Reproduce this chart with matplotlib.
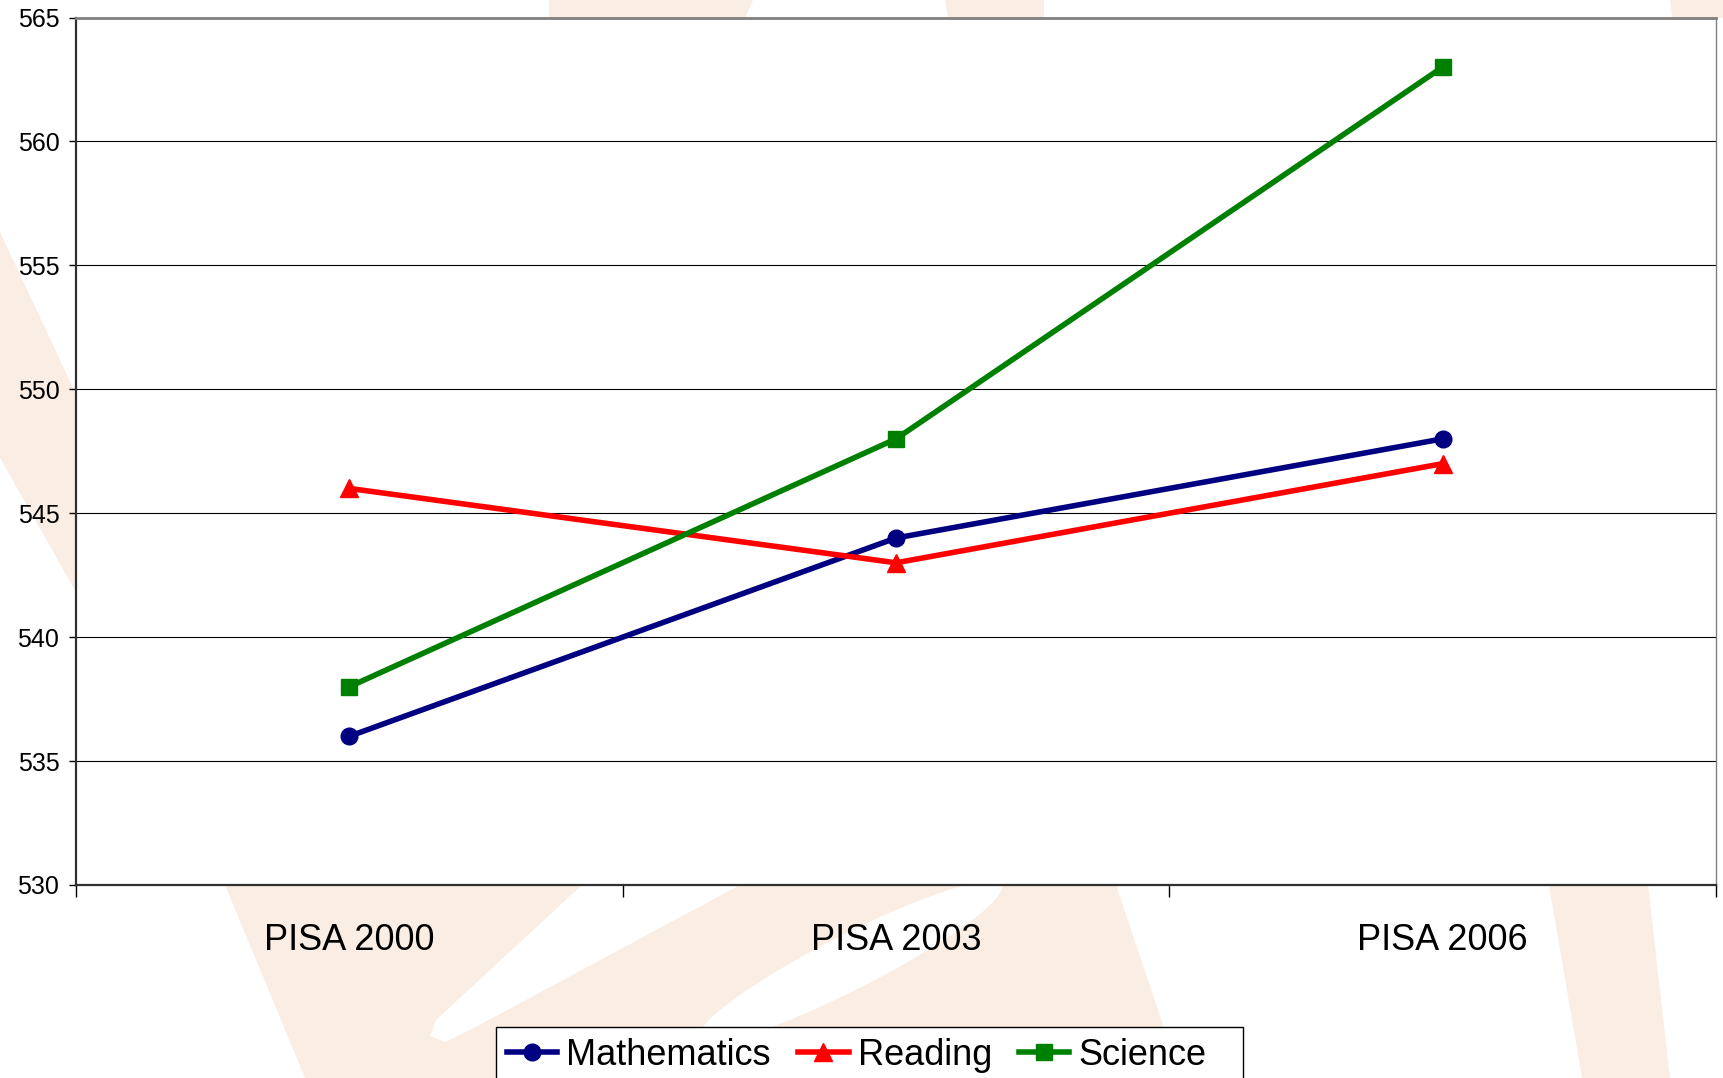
import matplotlib
matplotlib.use('Agg')
import matplotlib.pyplot as plt
from matplotlib.patches import Polygon, Ellipse, Rectangle
from matplotlib.ticker import FixedLocator

plt.rcParams['font.family'] = ['Liberation Sans', 'DejaVu Sans']

# data
rounds = ['PISA 2000', 'PISA 2003', 'PISA 2006']
maths = [536, 544, 548]
reading = [546, 543, 547]
science = [538, 548, 563]
y_ticks = [530, 535, 540, 545, 550, 555, 560, 565]

W, H = 1723, 1078
peach = '#FAEEE4'

def fx(px):
    return px / W

def fy(py):
    return 1 - py / H

# faint watermark behind the chart (pixel coords, origin top-left)
peach_shapes = [
    [(0, 232), (76, 394), (76, 592), (0, 458)],
    [(549, 0), (753, 0), (745, 18), (549, 18)],
    [(945, 0), (1044, 0), (1044, 18), (948, 18)],
    [(1670, 0), (1723, 0), (1723, 18), (1672, 18)],
    [(225, 885), (1116, 885), (1181, 1078), (305, 1078)],
    [(1549, 885), (1648, 885), (1670, 1078), (1582, 1078)],
]
white_shapes = [
    [(582, 885), (740, 885), (470, 1030), (445, 1042), (430, 1036), (436, 1020)],
]

fig = plt.figure(figsize=(W / 100, H / 100), dpi=100)
for pts in peach_shapes:
    fig.patches.append(Polygon([(fx(x), fy(y)) for x, y in pts], closed=True,
                               transform=fig.transFigure, facecolor=peach,
                               edgecolor='none', zorder=-3))
for pts in white_shapes:
    fig.patches.append(Polygon([(fx(x), fy(y)) for x, y in pts], closed=True,
                               transform=fig.transFigure, facecolor='white',
                               edgecolor='none', zorder=-2))
# narrow white swoosh, drawn in pixel space
fig.patches.append(Ellipse((850, H - 962), 340, 55, angle=27, transform=None,
                           facecolor='white', edgecolor='none', zorder=-2))

# legend box runs off the bottom edge
fig.patches.append(Rectangle((fx(496), fy(1090)), fx(1243) - fx(496), fy(1027) - fy(1090),
                             transform=fig.transFigure, facecolor='white',
                             edgecolor='black', lw=1, zorder=-1))

ax = fig.add_axes([fx(76), fy(885), fx(1716) - fx(76), fy(17.5) - fy(885)])
ax.set_facecolor('white')

x = range(len(rounds))
l1, = ax.plot(x, maths, color='#000080', lw=4, marker='o', ms=12, label='Mathematics')
l2, = ax.plot(x, reading, color='#FF0000', lw=4, marker='^', ms=12.5, label='Reading')
l3, = ax.plot(x, science, color='#008000', lw=4, marker='s', ms=11.5, label='Science')

ax.set_xlim(-0.5, len(rounds) - 0.5)
ax.set_ylim(530, 565)
ax.set_yticks(y_ticks)
ax.set_yticklabels([str(v) for v in y_ticks], fontsize=18)
ax.tick_params(axis='y', direction='out', length=5, width=1, pad=7, colors='black')

ax.set_xticks(list(x))
ax.set_xticklabels(rounds, fontsize=26)
ax.tick_params(axis='x', which='major', length=0, pad=27)
ax.xaxis.set_minor_locator(FixedLocator([i - 0.5 for i in range(len(rounds) + 1)]))
ax.tick_params(axis='x', which='minor', direction='out', length=8.6, width=1, colors='black')

ax.yaxis.grid(True, color='black', lw=0.8)
ax.set_axisbelow(True)

ax.spines['left'].set_color('#303030')
ax.spines['left'].set_linewidth(1.6)
ax.spines['bottom'].set_color('#303030')
ax.spines['bottom'].set_linewidth(1.6)
ax.spines['top'].set_color('#808080')
ax.spines['top'].set_linewidth(2)
ax.spines['right'].set_color('#808080')
ax.spines['right'].set_linewidth(1)

leg = fig.legend(handles=[l1, l2, l3], loc='upper left',
                 bbox_to_anchor=(fx(496), fy(1027)), ncol=3, fontsize=26,
                 frameon=False, borderpad=0.3, handlelength=1.4, handletextpad=0.25,
                 columnspacing=0.75, borderaxespad=0)

fig.savefig('out.png', dpi=100)
